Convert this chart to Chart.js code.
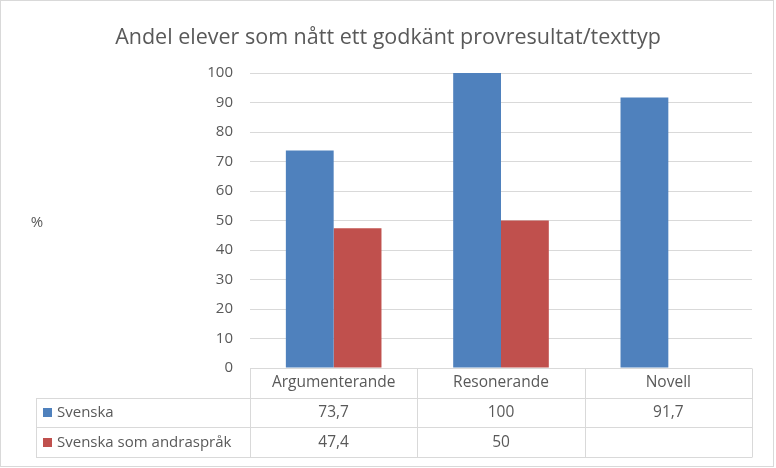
<!DOCTYPE html>
<html>
<head>
<meta charset="utf-8">
<script src="https://cdn.jsdelivr.net/npm/chart.js@4"></script>
<style>
  html, body { margin: 0; padding: 0; background: #ffffff; }
  #wrap { width: 776px; height: 468px; position: relative; }
</style>
</head>
<body>
<div id="wrap"><canvas id="c" width="776" height="468"></canvas></div>
<script>
const titleText = 'Andel elever som nått ett godkänt provresultat/texttyp';
const axisLabel = '%';
const categories = ['Argumenterande', 'Resonerande', 'Novell'];
const seriesNames = ['Svenska', 'Svenska som andraspråk'];
const svenska = [73.7, 100, 91.7];
const andraspraak = [47.4, 50, null];
const yTicks = [0, 10, 20, 30, 40, 50, 60, 70, 80, 90, 100];

const COLORS = ['#4F81BD', '#C0504D'];
const TEXT = '#595959';
const LINE = '#D9D9D9';
const FONT = '"Open Sans", "Noto Sans", sans-serif';

function fmt(v) {
  if (v === null || v === undefined) return '';
  return String(v).replace('.', ',');
}

const tablePlugin = {
  id: 'tablePlugin',
  afterDraw(chart) {
    const ctx = chart.ctx;
    const xs = chart.scales.x;
    const ys = chart.scales.y;
    const left = xs.left, right = xs.right;
    const top = ys.bottom;
    const rowH = 29.7;
    const n = categories.length;
    const colW = (right - left) / n;
    const tableLeft = 36;
    ctx.save();
    ctx.strokeStyle = LINE;
    ctx.lineWidth = 1;
    const px = v => Math.round(v) + 0.5;
    ctx.beginPath();
    ctx.moveTo(left, px(top)); ctx.lineTo(right, px(top));
    for (let r = 1; r <= 3; r++) {
      const y = px(top + r * rowH);
      ctx.moveTo(tableLeft, y); ctx.lineTo(right, y);
    }
    for (let i = 0; i <= n; i++) {
      const x = px(left + i * colW);
      ctx.moveTo(x, px(top)); ctx.lineTo(x, px(top + 3 * rowH));
    }
    ctx.moveTo(px(tableLeft), px(top + rowH)); ctx.lineTo(px(tableLeft), px(top + 3 * rowH));
    ctx.stroke();

    ctx.strokeRect(0.5, 0.5, 773, 466);

    ctx.fillStyle = TEXT;
    ctx.font = '15.5px ' + FONT;
    ctx.textBaseline = 'middle';
    ctx.textAlign = 'center';
    categories.forEach((c, i) => {
      ctx.fillText(c, xs.getPixelForValue(i), top + rowH * 0.5);
    });
    const series = [svenska, andraspraak];
    series.forEach((s, r) => {
      const cy = top + rowH * (r + 1.5);
      s.forEach((v, i) => {
        ctx.fillText(fmt(v), xs.getPixelForValue(i), cy);
      });
      ctx.fillStyle = COLORS[r];
      ctx.fillRect(43, Math.round(cy - 4.5), 9, 9);
      ctx.fillStyle = TEXT;
      ctx.textAlign = 'left';
      ctx.font = '15px ' + FONT;
      ctx.fillText(seriesNames[r], 57, cy);
      ctx.font = '15.5px ' + FONT;
      ctx.textAlign = 'center';
    });

    ctx.font = '21.5px ' + FONT;
    ctx.fillText(titleText, 388, 38);
    ctx.font = '15px ' + FONT;
    ctx.fillText(axisLabel, 37, 223);
    ctx.restore();
  }
};

new Chart(document.getElementById('c'), {
  type: 'bar',
  data: {
    labels: categories,
    datasets: [
      { label: seriesNames[0], data: svenska, backgroundColor: COLORS[0], borderWidth: 0,
        categoryPercentage: 2 / 3.5, barPercentage: 1 },
      { label: seriesNames[1], data: andraspraak, backgroundColor: COLORS[1], borderWidth: 0,
        categoryPercentage: 2 / 3.5, barPercentage: 1 }
    ]
  },
  options: {
    responsive: false,
    animation: false,
    layout: { padding: { top: 73, right: 24, left: 0, bottom: 0 } },
    plugins: {
      legend: { display: false },
      title: { display: false },
      tooltip: { enabled: false }
    },
    scales: {
      x: {
        ticks: { display: false },
        grid: { display: false, drawTicks: false },
        border: { display: false },
        afterFit(scale) { scale.height = 100; }
      },
      y: {
        min: 0, max: 100,
        afterBuildTicks(scale) { scale.ticks = yTicks.map(v => ({ value: v })); },
        ticks: { color: TEXT, font: { family: FONT, size: 15 }, padding: 17 },
        grid: { color: LINE, drawTicks: false, lineWidth: 1 },
        border: { display: false },
        afterFit(scale) { scale.width = 250; }
      }
    }
  },
  plugins: [tablePlugin]
});
</script>
</body>
</html>
